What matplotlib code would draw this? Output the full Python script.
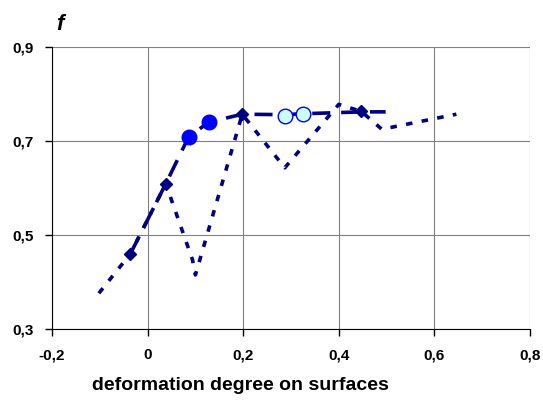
import matplotlib
matplotlib.use("Agg")
from matplotlib import pyplot as plt
from matplotlib.ticker import FuncFormatter

# dotted series (no markers)
dot_x = [-0.102, -0.036, 0.038, 0.094, 0.100, 0.198, 0.287, 0.400, 0.447, 0.490, 0.646]
dot_y = [0.376, 0.460, 0.609, 0.447, 0.415, 0.757, 0.643, 0.778, 0.763, 0.725, 0.757]

# long dashed curve
dash_x = [-0.036, 0.038, 0.086, 0.128, 0.198, 0.287, 0.326, 0.447, 0.498]
dash_y = [0.460, 0.609, 0.709, 0.740, 0.757, 0.756, 0.758, 0.762, 0.762]

# diamond markers
dia_x = [-0.036, 0.038, 0.198, 0.447]
dia_y = [0.460, 0.609, 0.757, 0.763]

# filled circles
fc_x = [0.086, 0.128]
fc_y = [0.709, 0.740]

# open (light) circles
oc_x = [0.287, 0.326]
oc_y = [0.753, 0.757]

navy = '#000080'

fig = plt.figure(figsize=(5.43, 4.01), dpi=100)
ax = fig.add_axes([52/543, 72/401, 478/543, 282/401])

ax.plot(dot_x, dot_y, color=navy, linewidth=2.6, linestyle=(0, (1.8, 2.6)), solid_capstyle='butt', zorder=3)
ax.plot(dash_x, dash_y, color=navy, linewidth=2.6, linestyle=(0, (5, 3)), zorder=3)
ax.plot(dia_x, dia_y, linestyle='none', marker='D', markersize=6.5, color=navy, zorder=4)
ax.plot(fc_x, fc_y, linestyle='none', marker='o', markersize=10.5, color='#0000FF', zorder=5)
ax.plot(oc_x, oc_y, color='#0000FF', linewidth=1, marker='o', markersize=10.5,
        markerfacecolor='#CCFFFF', markeredgecolor='#0000FF', markeredgewidth=1, zorder=5)

ax.set_xlim(-0.2, 0.8)
ax.set_ylim(0.3, 0.9)
ax.set_xticks([-0.2, 0, 0.2, 0.4, 0.6, 0.8])
ax.set_yticks([0.3, 0.5, 0.7, 0.9])

fmt = FuncFormatter(lambda v, p: ('%g' % round(v, 2)).replace('.', ','))
ax.xaxis.set_major_formatter(fmt)
ax.yaxis.set_major_formatter(fmt)

ax.grid(True, color='#808080', linewidth=0.8)
ax.set_axisbelow(True)
for s in ['top', 'right']:
    ax.spines[s].set_visible(False)
ax.spines['left'].set_color('black')
ax.spines['bottom'].set_color('black')
ax.tick_params(direction='out', length=5, width=1, labelsize=11)
ax.tick_params(axis='x', pad=9)
ax.tick_params(axis='y', pad=8)
for lab in ax.get_xticklabels() + ax.get_yticklabels():
    lab.set_fontweight('bold')
    lab.set_fontfamily('Liberation Sans')

fig.text(240/543, 1 - 386/401, 'deformation degree on surfaces', ha='center', va='center',
         fontsize=14, fontweight='bold', family='Liberation Sans')
fig.text(60/543, 1 - 25/401, 'f', ha='center', va='center', fontsize=16,
         fontweight='bold', style='italic', family='Liberation Sans')

fig.savefig('out.png', dpi=100)
